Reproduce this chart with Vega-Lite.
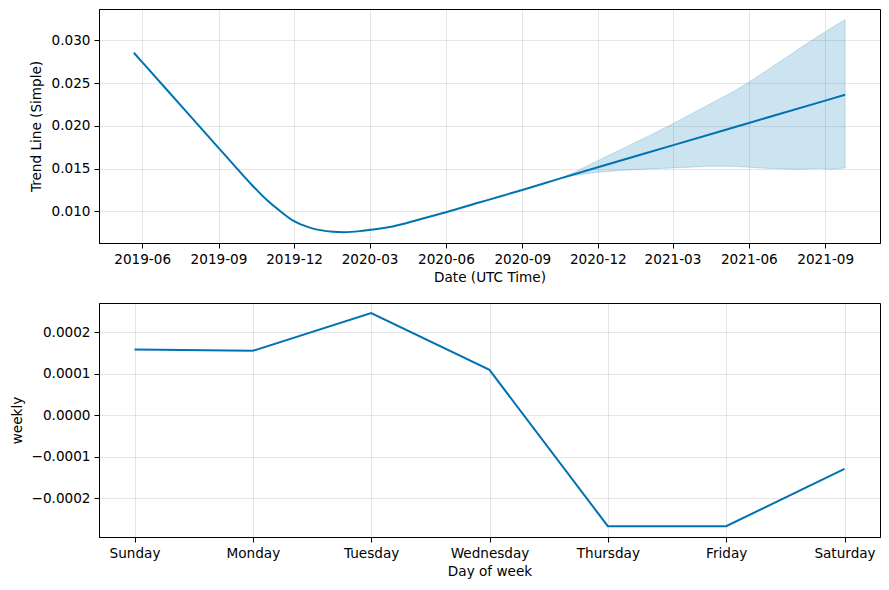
{
  "$schema": "https://vega.github.io/schema/vega-lite/v6.json",
  "padding": {"left": 9, "top": 8, "right": 5, "bottom": 5},
  "background": "white",
  "datasets": {
    "trend": [
      {"date": "2019-05-22", "trend": 0.02856},
      {"date": "2019-06-01", "trend": 0.02747},
      {"date": "2019-07-01", "trend": 0.02420},
      {"date": "2019-08-09", "trend": 0.01995},
      {"date": "2019-09-01", "trend": 0.01744},
      {"date": "2019-09-23", "trend": 0.01504},
      {"date": "2019-10-10", "trend": 0.01322},
      {"date": "2019-10-29", "trend": 0.01135},
      {"date": "2019-11-16", "trend": 0.00990},
      {"date": "2019-12-01", "trend": 0.00885},
      {"date": "2019-12-20", "trend": 0.00810},
      {"date": "2020-01-17", "trend": 0.00762},
      {"date": "2020-01-30", "trend": 0.00757},
      {"date": "2020-02-18", "trend": 0.00769},
      {"date": "2020-03-01", "trend": 0.00784},
      {"date": "2020-03-29", "trend": 0.00824},
      {"date": "2020-05-01", "trend": 0.00908},
      {"date": "2020-06-01", "trend": 0.00990},
      {"date": "2020-07-12", "trend": 0.01106},
      {"date": "2020-08-05", "trend": 0.01174},
      {"date": "2020-09-01", "trend": 0.01250},
      {"date": "2020-10-15", "trend": 0.01380},
      {"date": "2020-12-01", "trend": 0.01516},
      {"date": "2021-03-01", "trend": 0.01772},
      {"date": "2021-06-01", "trend": 0.02034},
      {"date": "2021-09-01", "trend": 0.02296},
      {"date": "2021-09-25", "trend": 0.02364}
    ],
    "band": [
      {"date": "2020-10-15", "lower": 0.01380, "upper": 0.01380},
      {"date": "2020-11-01", "lower": 0.01418, "upper": 0.01450},
      {"date": "2020-12-01", "lower": 0.01457, "upper": 0.01593},
      {"date": "2021-01-01", "lower": 0.01480, "upper": 0.01740},
      {"date": "2021-02-01", "lower": 0.01497, "upper": 0.01885},
      {"date": "2021-03-01", "lower": 0.01508, "upper": 0.02023},
      {"date": "2021-04-14", "lower": 0.01528, "upper": 0.02250},
      {"date": "2021-05-12", "lower": 0.01527, "upper": 0.02395},
      {"date": "2021-06-01", "lower": 0.01516, "upper": 0.02512},
      {"date": "2021-06-21", "lower": 0.01504, "upper": 0.02640},
      {"date": "2021-07-16", "lower": 0.01496, "upper": 0.02800},
      {"date": "2021-08-04", "lower": 0.01492, "upper": 0.02925},
      {"date": "2021-08-25", "lower": 0.01504, "upper": 0.03060},
      {"date": "2021-09-01", "lower": 0.01498, "upper": 0.03100},
      {"date": "2021-09-08", "lower": 0.01492, "upper": 0.03145},
      {"date": "2021-09-25", "lower": 0.01508, "upper": 0.03243}
    ],
    "weekly": [
      {"day": 0, "name": "Sunday", "weekly": 0.000158},
      {"day": 1, "name": "Monday", "weekly": 0.000155},
      {"day": 2, "name": "Tuesday", "weekly": 0.000246},
      {"day": 3, "name": "Wednesday", "weekly": 0.000109},
      {"day": 4, "name": "Thursday", "weekly": -0.000267},
      {"day": 5, "name": "Friday", "weekly": -0.000267},
      {"day": 6, "name": "Saturday", "weekly": -0.000129}
    ]
  },
  "spacing": 60,
  "bounds": "flush",
  "vconcat": [
    {
      "width": 781,
      "height": 234,
      "encoding": {
        "x": {
          "field": "date", "type": "temporal",
          "scale": {"type": "utc", "domain": [{"year": 2019, "month": 4, "date": 10, "utc": true}, {"year": 2021, "month": 11, "date": 6, "utc": true}]},
          "axis": {
            "title": "Date (UTC Time)",
            "format": "%Y-%m",
            "labelFlush": false,
            "labelOverlap": false,
            "titlePadding": 5,
            "values": [
              {"year": 2019, "month": 6, "date": 1, "utc": true},
              {"year": 2019, "month": 9, "date": 1, "utc": true},
              {"year": 2019, "month": 12, "date": 1, "utc": true},
              {"year": 2020, "month": 3, "date": 1, "utc": true},
              {"year": 2020, "month": 6, "date": 1, "utc": true},
              {"year": 2020, "month": 9, "date": 1, "utc": true},
              {"year": 2020, "month": 12, "date": 1, "utc": true},
              {"year": 2021, "month": 3, "date": 1, "utc": true},
              {"year": 2021, "month": 6, "date": 1, "utc": true},
              {"year": 2021, "month": 9, "date": 1, "utc": true}
            ]
          }
        }
      },
      "layer": [
        {
          "data": {"name": "band"},
          "mark": {"type": "area", "fill": "#0072B2", "fillOpacity": 0.2, "stroke": "#0072B2", "strokeOpacity": 0.2, "strokeWidth": 1},
          "encoding": {
            "y": {
              "field": "lower", "type": "quantitative",
              "scale": {"domain": [0.0063, 0.03368], "nice": false, "zero": false},
              "axis": {"title": "Trend Line (Simple)", "format": ".3f", "values": [0.010, 0.015, 0.020, 0.025, 0.030], "titlePadding": 8}
            },
            "y2": {"field": "upper"}
          }
        },
        {
          "data": {"name": "trend"},
          "mark": {"type": "line", "color": "#0072B2", "strokeWidth": 2, "interpolate": "monotone"},
          "encoding": {
            "y": {"field": "trend", "type": "quantitative"}
          }
        }
      ]
    },
    {
      "width": 781,
      "height": 234,
      "data": {"name": "weekly"},
      "mark": {"type": "line", "color": "#0072B2", "strokeWidth": 2},
      "encoding": {
        "x": {
          "field": "day", "type": "quantitative",
          "scale": {"domain": [-0.3, 6.3], "nice": false, "zero": false},
          "axis": {
            "title": "Day of week",
            "values": [0, 1, 2, 3, 4, 5, 6],
            "labelExpr": "['Sunday','Monday','Tuesday','Wednesday','Thursday','Friday','Saturday'][datum.value]",
            "labelFlush": false,
            "labelOverlap": false,
            "titlePadding": 5
          }
        },
        "y": {
          "field": "weekly", "type": "quantitative",
          "scale": {"domain": [-0.000293, 0.000270], "nice": false, "zero": false},
          "axis": {"title": "weekly", "format": ".4f", "values": [-0.0002, -0.0001, 0, 0.0001, 0.0002], "titlePadding": 7}
        }
      }
    }
  ],
  "config": {
    "font": "DejaVu Sans",
    "view": {"stroke": "black", "strokeWidth": 1},
    "axis": {
      "labelFont": "DejaVu Sans",
      "titleFont": "DejaVu Sans",
      "labelFontSize": 13.6,
      "titleFontSize": 13.6,
      "titleFontWeight": "normal",
      "labelColor": "black",
      "titleColor": "black",
      "domainColor": "black",
      "domainWidth": 1,
      "tickColor": "black",
      "tickWidth": 1,
      "tickSize": 5,
      "labelPadding": 4,
      "grid": true,
      "gridColor": "#808080",
      "gridOpacity": 0.2,
      "gridWidth": 1
    }
  }
}
